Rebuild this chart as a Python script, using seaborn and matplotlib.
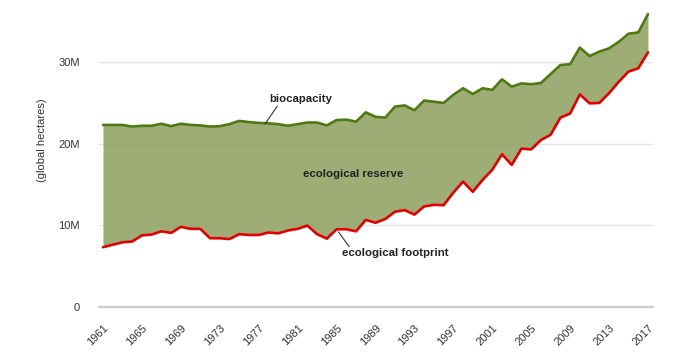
import numpy as np
import pandas as pd
import seaborn as sns
import matplotlib.pyplot as plt

# 年（1961〜2017）
years = list(range(1961, 2018))

# 生物生産力（百万 gha）
biocapacity = [
    22.3, 22.3, 22.3, 22.1, 22.2, 22.2, 22.45, 22.15, 22.45, 22.3,
    22.25, 22.1, 22.15, 22.4, 22.8, 22.65, 22.55, 22.5, 22.4, 22.2,
    22.4, 22.6, 22.6, 22.25, 22.9, 22.95, 22.7, 23.85, 23.3, 23.2,
    24.55, 24.7, 24.1, 25.3, 25.15, 25.0, 26.0, 26.8, 26.1, 26.8,
    26.6, 27.9, 27.0, 27.4, 27.3, 27.45, 28.55, 29.65, 29.75, 31.8,
    30.75, 31.3, 31.7, 32.5, 33.5, 33.65, 35.9,
]

# エコロジカル・フットプリント（百万 gha）
footprint = [
    7.3, 7.6, 7.9, 8.0, 8.75, 8.85, 9.25, 9.05, 9.8, 9.55,
    9.55, 8.4, 8.4, 8.3, 8.9, 8.8, 8.8, 9.1, 9.0, 9.35,
    9.55, 9.95, 8.9, 8.35, 9.5, 9.5, 9.25, 10.65, 10.3, 10.75,
    11.65, 11.85, 11.3, 12.3, 12.5, 12.45, 14.0, 15.35, 14.1, 15.55,
    16.8, 18.7, 17.4, 19.4, 19.3, 20.45, 21.1, 23.2, 23.7, 26.05,
    24.95, 25.0, 26.2, 27.6, 28.85, 29.25, 31.2,
]

x_ticks = list(range(1961, 2018, 4))
y_ticks = [0, 10, 20, 30]
y_tick_labels = ["0", "10M", "20M", "30M"]

df = pd.DataFrame({"year": years, "biocapacity": biocapacity, "footprint": footprint})

sns.set_style("white")
plt.rcParams["font.family"] = ["Liberation Sans", "DejaVu Sans"]

fig = plt.figure(figsize=(6.82, 3.58), dpi=100)
ax = fig.add_axes([0.1456, 0.1433, 0.8115, 0.8423])

# 黒字の領域（フットプリントと生物生産力の間）
ax.fill_between(df["year"], df["footprint"], df["biocapacity"],
                color="#92a466", alpha=0.9, linewidth=0, zorder=2)

sns.lineplot(data=df, x="year", y="biocapacity", color="#4e7a14",
             linewidth=1.9, ax=ax, zorder=3)
sns.lineplot(data=df, x="year", y="footprint", color="#e00000",
             linewidth=1.9, ax=ax, zorder=3)

ax.set_xlim(1960.62, 2017.49)
ax.set_ylim(0, 37)

# 軸とグリッド
for side in ["top", "right", "left"]:
    ax.spines[side].set_visible(False)
ax.spines["bottom"].set_color("#cccccc")
ax.spines["bottom"].set_linewidth(1.6)
ax.spines["bottom"].set_zorder(4)

ax.set_yticks(y_ticks)
ax.set_yticklabels(y_tick_labels)
ax.yaxis.grid(True, color="#e4e4e4", linewidth=1.0, zorder=0)
ax.set_axisbelow(True)
ax.tick_params(axis="y", length=0, pad=14, labelsize=8, labelcolor="#333333")

ax.set_xticks(x_ticks)
ax.set_xticklabels([str(y) for y in x_ticks], rotation=45, ha="right",
                   rotation_mode="anchor")
ax.tick_params(axis="x", length=7.5, width=1.2, color="#cccccc", pad=4,
               labelsize=8, labelcolor="#333333")

ax.set_xlabel("")
ax.set_ylabel("")
fig.text(42 / 682, 1 - 140 / 358, "(global hectares)", rotation=90,
         ha="center", va="center", fontsize=8, color="#333333")

# 注記
ax.annotate("", xy=(1977.65, 22.42), xytext=(1978.9, 24.6),
            arrowprops=dict(arrowstyle="-", color="#333333", lw=0.8,
                            shrinkA=0, shrinkB=0), zorder=5)
ax.text(1981.35, 25.48, "biocapacity", ha="center", va="center",
        fontsize=8.2, fontweight="bold", color="#222222", zorder=5)

ax.text(1986.7, 16.28, "ecological reserve", ha="center", va="center",
        fontsize=8.2, fontweight="bold", color="#222222", zorder=5)

ax.annotate("", xy=(1985.18, 9.2), xytext=(1986.3, 7.36),
            arrowprops=dict(arrowstyle="-", color="#333333", lw=0.8,
                            shrinkA=0, shrinkB=0), zorder=5)
ax.text(1991.0, 6.59, "ecological footprint", ha="center", va="center",
        fontsize=8.2, fontweight="bold", color="#222222", zorder=5)

fig.savefig("out.png", dpi=100)
plt.close(fig)
